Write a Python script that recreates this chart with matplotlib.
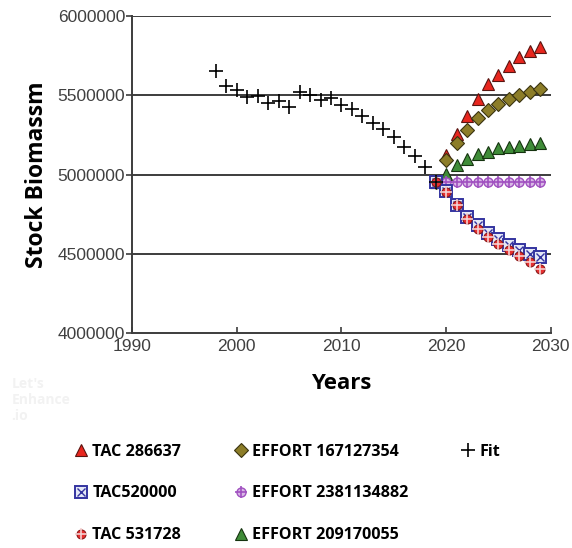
import matplotlib
matplotlib.use("Agg")
import matplotlib.pyplot as plt
from matplotlib.lines import Line2D
import numpy as np

# fitted stock biomass
fit_years = np.arange(1998, 2020)
fit_vals = [5650000, 5561000, 5530000, 5487000, 5498000, 5454000, 5466000, 5428000,
            5522000, 5500000, 5470000, 5481000, 5439000, 5411000, 5369000, 5323000,
            5285000, 5234000, 5175000, 5118000, 5049000, 4955000]

# projections 2019-2029
proj_years = np.arange(2019, 2030)
tac_286637 = [4955000, 5122000, 5253000, 5371000, 5475000, 5570000, 5628000, 5685000, 5739000, 5776000, 5802000]
tac_520000 = [4955000, 4894000, 4806000, 4732000, 4679000, 4633000, 4591000, 4553000, 4527000, 4500000, 4479000]
tac_531728 = [4955000, 4890000, 4806000, 4722000, 4658000, 4606000, 4563000, 4527000, 4489000, 4447000, 4405000]
eff_167127354 = [4955000, 5091000, 5200000, 5280000, 5354000, 5407000, 5443000, 5475000, 5502000, 5523000, 5540000]
eff_2381134882 = [4955000, 4952000, 4954000, 4955000, 4955000, 4955000, 4955000, 4955000, 4955000, 4955000, 4955000]
eff_209170055 = [4955000, 5006000, 5059000, 5101000, 5127000, 5144000, 5165000, 5175000, 5182000, 5190000, 5196000]

fig = plt.figure(figsize=(5.72, 5.48), dpi=100)
ax = fig.add_axes([0.231, 0.392, 0.732, 0.579])

for y in [4500000, 5000000, 5500000, 6000000]:
    ax.axhline(y, color="#3c3c3c", lw=1.4, zorder=1)

ms = 8
h_tri = ax.plot(proj_years, tac_286637, "^", ms=ms+1, mfc="#e8261e", mec="#5a1410", mew=0.8, ls="none", zorder=3)[0]
h_dia = ax.plot(proj_years, eff_167127354, "D", ms=ms-1, mfc="#8c7d28", mec="#3a3310", mew=0.8, ls="none", zorder=3)[0]
h_gtri = ax.plot(proj_years, eff_209170055, "^", ms=ms+1, mfc="#3f8c38", mec="#15330f", mew=0.8, ls="none", zorder=3)[0]
h_pc = ax.plot(proj_years, eff_2381134882, "o", ms=ms-1.5, mfc="#d9b8e6", mec="#a050c0", mew=1.0, ls="none", zorder=3)[0]
h_pp = ax.plot(proj_years, eff_2381134882, "+", ms=ms+0.5, mec="#a050c0", mew=1.2, ls="none", zorder=3)[0]
h_sq = ax.plot(proj_years, tac_520000, "s", ms=ms+0.5, mfc="#e4e8f6", mec="#3434a0", mew=1.4, ls="none", zorder=4)[0]
h_sx = ax.plot(proj_years, tac_520000, "x", ms=ms-2.5, mec="#3434a0", mew=1.0, ls="none", zorder=4)[0]
h_rc = ax.plot(proj_years, tac_531728, "o", ms=ms-1.5, mfc="#e83030", mec="#8a1a1a", mew=0.8, ls="none", zorder=5)[0]
h_rp = ax.plot(proj_years, tac_531728, "+", ms=ms+0.5, mec="#f4d0d0", mew=1.2, ls="none", zorder=5)[0]
h_fit = ax.plot(fit_years, fit_vals, "+", ms=9.5, color="black", mew=1.2, ls="none", zorder=6)[0]

ax.set_xlim(1990, 2030)
ax.set_ylim(4000000, 6000000)
ax.set_xticks([1990, 2000, 2010, 2020, 2030])
ax.set_yticks([4000000, 4500000, 5000000, 5500000, 6000000])
ax.set_yticklabels(["4000000", "4500000", "5000000", "5500000", "6000000"])
for s in ["top", "right"]:
    ax.spines[s].set_visible(False)
for s in ["left", "bottom"]:
    ax.spines[s].set_color("#3c3c3c")
    ax.spines[s].set_linewidth(1.4)
ax.tick_params(axis="x", direction="in", length=4, color="#3c3c3c", width=1.2, pad=4,
               labelsize=12.5, labelcolor="#404040")
ax.tick_params(axis="y", direction="out", length=4, color="#3c3c3c", width=1.2, pad=1,
               labelsize=12.5, labelcolor="#404040")
for lbl in ax.get_xticklabels() + ax.get_yticklabels():
    lbl.set_family("Liberation Sans")

ax.set_xlabel("Years", fontsize=16, fontweight="bold", family="Open Sans", labelpad=14)
ax.set_ylabel("Stock Biomassm", fontsize=16.5, fontweight="bold", family="Open Sans", labelpad=6)

fig.text(0.02, 0.27, "Let's\nEnhance\n.io", fontsize=10, color="#f2f2f2", family="Open Sans",
         fontweight="bold", va="center")

blank = Line2D([], [], ls="none", marker="")
handles = [h_tri, (h_sq, h_sx), (h_rc, h_rp), h_dia, (h_pc, h_pp), h_gtri, h_fit, blank, blank]
labels = ["TAC 286637", "TAC520000", "TAC 531728", "EFFORT 167127354",
          "EFFORT 2381134882", "EFFORT 209170055", "Fit", "", ""]
fig.legend(handles, labels, loc="upper left", bbox_to_anchor=(0.105, 0.217), ncol=3,
           frameon=False, handlelength=0.8, handletextpad=0.3, columnspacing=3.3,
           labelspacing=1.6, prop={"family": "Open Sans", "weight": "bold", "size": 11.6})

fig.savefig("out.png", dpi=100)
